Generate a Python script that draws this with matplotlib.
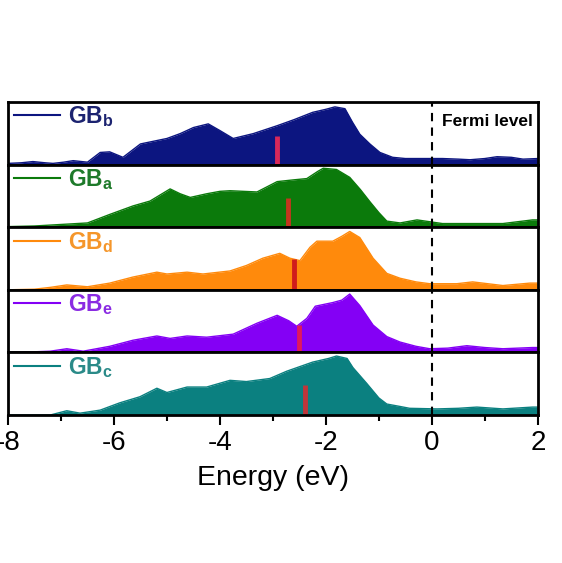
import matplotlib
matplotlib.use("Agg")
import matplotlib.pyplot as plt
from matplotlib.ticker import MultipleLocator

plt.rcParams['font.family'] = ['Liberation Sans', 'DejaVu Sans']
plt.rcParams['mathtext.fontset'] = 'custom'
plt.rcParams['mathtext.bf'] = 'Liberation Sans:bold'
plt.rcParams['mathtext.rm'] = 'Liberation Sans'

# ---- data (top panel to bottom panel) ----
names = ['b', 'a', 'd', 'e', 'c']

E_b = [-8.0, -7.75, -7.53, -7.3, -7.15, -6.95, -6.77, -6.5, -6.26, -6.08, -5.83, -5.5, -5.0, -4.75,
       -4.5, -4.22, -4.0, -3.75, -3.37, -2.92, -2.6, -2.25, -2.0, -1.83, -1.64, -1.5, -1.36, -1.17,
       -0.98, -0.74, -0.5, -0.23, 0.2, 0.5, 0.72, 1.0, 1.23, 1.5, 1.72, 2.0]
D_b = [0.02, 0.03, 0.05, 0.03, 0.02, 0.04, 0.065, 0.04, 0.2, 0.21, 0.12, 0.34, 0.43, 0.51,
       0.61, 0.67, 0.56, 0.43, 0.51, 0.64, 0.74, 0.86, 0.91, 0.95, 0.92, 0.7, 0.5, 0.34,
       0.2, 0.12, 0.1, 0.1, 0.1, 0.09, 0.08, 0.1, 0.13, 0.12, 0.09, 0.1]

E_a = [-8.0, -7.5, -6.9, -6.5, -6.08, -5.64, -5.32, -4.94, -4.75, -4.56, -4.25, -4.0, -3.81, -3.3,
       -2.92, -2.6, -2.36, -2.15, -2.05, -1.8, -1.55, -1.35, -1.17, -1.0, -0.85, -0.6, -0.28, 0.2,
       0.7, 1.34, 1.9, 2.0]
D_a = [0.01, 0.02, 0.05, 0.07, 0.21, 0.35, 0.43, 0.63, 0.55, 0.49, 0.55, 0.59, 0.6, 0.58,
       0.75, 0.78, 0.8, 0.92, 0.97, 0.95, 0.82, 0.62, 0.42, 0.24, 0.1, 0.07, 0.12, 0.06,
       0.06, 0.06, 0.12, 0.12]

E_d = [-8.0, -7.5, -7.2, -6.89, -6.5, -6.08, -5.64, -5.19, -5.0, -4.62, -4.32, -3.81, -3.5, -3.19,
       -2.87, -2.68, -2.49, -2.3, -2.17, -1.87, -1.7, -1.55, -1.36, -1.11, -0.85, -0.6, -0.3, -0.04,
       0.47, 0.77, 1.34, 1.85, 2.0]
D_d = [0.0, 0.01, 0.04, 0.08, 0.05, 0.11, 0.21, 0.29, 0.26, 0.29, 0.26, 0.31, 0.40, 0.52,
       0.6, 0.52, 0.48, 0.7, 0.8, 0.8, 0.88, 0.96, 0.86, 0.52, 0.27, 0.19, 0.13, 0.1,
       0.1, 0.13, 0.07, 0.11, 0.11]

E_e = [-8.0, -7.5, -7.2, -6.89, -6.58, -6.08, -5.64, -5.19, -4.94, -4.62, -4.25, -3.75, -3.5, -3.3,
       -2.92, -2.7, -2.55, -2.36, -2.2, -1.87, -1.7, -1.55, -1.36, -1.11, -0.85, -0.6, -0.3, -0.04,
       0.3, 0.66, 1.0, 1.34, 1.9, 2.0]
D_e = [0.0, 0.01, 0.02, 0.06, 0.02, 0.1, 0.2, 0.27, 0.23, 0.27, 0.25, 0.3, 0.4, 0.48,
       0.61, 0.52, 0.43, 0.56, 0.76, 0.82, 0.86, 0.96, 0.77, 0.45, 0.26, 0.17, 0.1, 0.06,
       0.07, 0.11, 0.08, 0.06, 0.08, 0.08]

E_c = [-8.0, -7.2, -6.89, -6.64, -6.26, -5.89, -5.51, -5.19, -5.0, -4.62, -4.25, -3.81, -3.5, -3.06,
       -2.74, -2.25, -1.95, -1.8, -1.6, -1.49, -1.23, -1.0, -0.85, -0.6, -0.42, 0.1, 0.5, 0.85,
       1.34, 1.9, 2.0]
D_c = [0.0, 0.0, 0.07, 0.03, 0.08, 0.2, 0.3, 0.44, 0.37, 0.46, 0.46, 0.57, 0.55, 0.6,
       0.72, 0.87, 0.93, 0.97, 0.93, 0.78, 0.52, 0.28, 0.18, 0.14, 0.11, 0.1, 0.11, 0.13,
       0.1, 0.13, 0.13]

energies = [E_b, E_a, E_d, E_e, E_c]
dos = [D_b, D_a, D_d, D_e, D_c]

# d-band centre markers
center_E = [-2.92, -2.72, -2.6, -2.51, -2.4]
center_h = [0.47, 0.48, 0.5, 0.45, 0.5]

x_ticks = [-8, -6, -4, -2, 0, 2]

# ---- styles ----
fill_colors = ['#0c1580', '#0b7a0b', '#ff8a0c', '#8400f5', '#0b8080']
label_colors = ['#1c2370', '#1e7a2a', '#f5962a', '#8a2be2', '#2a8a88']
bar_colors = ['#d8285a', '#c4361e', '#d01c1c', '#e0185e', '#c0363a']

fig = plt.figure(figsize=(5.62, 5.63), dpi=100)
gs = fig.add_gridspec(5, 1, left=0.0142, right=0.957, top=0.8188, bottom=0.2629, hspace=0)

axes = []
for i in range(5):
    ax = fig.add_subplot(gs[i, 0])
    axes.append(ax)
    ax.fill_between(energies[i], 0, dos[i], color=fill_colors[i], lw=0)
    ax.plot(energies[i], dos[i], color=fill_colors[i], lw=1, solid_joinstyle='round',
            label=r'$\mathbf{GB}_\mathbf{%s}$' % names[i])
    ax.vlines(center_E[i], 0, center_h[i], color=bar_colors[i], lw=3.5)
    ax.axvline(0, color='black', lw=1.5, linestyle=(0, (4, 3)))
    ax.set_xlim(-8, 2)
    ax.set_ylim(0, 1.03)
    ax.set_yticks([])
    for sp in ax.spines.values():
        sp.set_linewidth(2)
    leg = ax.legend(loc='upper left', bbox_to_anchor=(0.012, 0.96), frameon=False,
                    handlelength=2.0, handletextpad=0.35, borderpad=0, borderaxespad=0,
                    fontsize=16.5)
    for t in leg.get_texts():
        t.set_color(label_colors[i])
    for h in leg.legend_handles:
        h.set_linewidth(1.5)
    if i < 4:
        ax.tick_params(axis='x', which='both', bottom=False, labelbottom=False)

axes[0].text(0.99, 0.69, 'Fermi level', transform=axes[0].transAxes, ha='right', va='center',
             fontsize=12.5, fontweight='bold', color='black')

axb = axes[-1]
axb.set_xticks(x_ticks)
axb.set_xticklabels([str(v) for v in x_ticks])
axb.xaxis.set_minor_locator(MultipleLocator(1))
axb.tick_params(axis='x', which='major', direction='out', length=7, width=1.5, labelsize=20, pad=4)
axb.tick_params(axis='x', which='minor', direction='out', length=4, width=1.5)
axb.set_xlabel('Energy (eV)', fontsize=20.5, labelpad=6)

fig.savefig('out.png', dpi=100, facecolor='white')
